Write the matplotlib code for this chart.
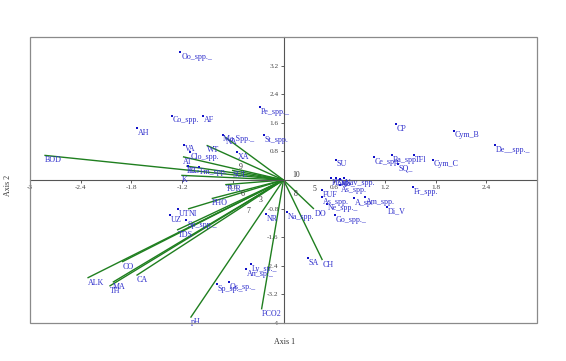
import matplotlib
matplotlib.use("Agg")
import matplotlib.pyplot as plt
from matplotlib.patches import Rectangle

plt.rcParams['font.family'] = ['Liberation Serif', 'DejaVu Serif']

# ---- species scores ----
species_names = ["Oo_spp._", "Co_spp.", "AF", "AH", "Pe_spp._", "St_spp.", "Ma Spp._",
                 "VA", "XA", "Clo_spp.", "CG", "Fm_spp.",
                 "UT", "UZ", "Sp_spp._", "NR", "Ly_sp._", "An_sp._", "Os_sp._", "Sp_sp._",
                 "Na_spp.", "SA",
                 "SU", "CP", "Cym_B", "De__spp._", "Ce_spp.", "Ba_spp", "TFl", "SQ_", "Cym_C",
                 "Fr_spp.", "Di_V", "A_sp.", "Am_spp.",
                 "Pl_sp.", "Ka_", "Mo_", "Nav_spp.", "As_spp.", "FUF", "As_spp.", "Ne_spp._",
                 "Go_spp._"]
species_x = [-1.22, -1.32, -0.95, -1.73, -0.28, -0.23, -0.72,
             -1.18, -0.55, -1.11, -1.13, -1.00,
             -1.25, -1.34, -1.15, -0.21, -0.38, -0.44, -0.65, -0.79,
             0.045, 0.29,
             0.62, 1.33, 2.02, 2.50, 1.07, 1.28, 1.55, 1.35, 1.77,
             1.53, 1.22, 0.83, 0.96,
             0.56, 0.62, 0.67, 0.72, 0.67, 0.46, 0.46, 0.51,
             0.61]
species_y = [3.57, 1.80, 1.80, 1.46, 2.05, 1.25, 1.27,
             0.99, 0.78, 0.78, 0.39, 0.36,
             -0.81, -0.99, -1.13, -0.95, -2.36, -2.50, -2.85, -2.90,
             -0.90, -2.18,
             0.57, 1.57, 1.38, 0.97, 0.64, 0.69, 0.69, 0.46, 0.57,
             -0.19, -0.75, -0.50, -0.48,
             0.06, 0.06, 0.04, 0.06, -0.15, -0.28, -0.48, -0.66,
             -0.99]

# ---- environmental variable scores (biplot arrows) ----
env_names = ["BOD", "NA", "WT", "AT", "EC", "K", "SUL", "TUR", "PHO", "NI", "TDS",
             "CO", "ALK", "MA", "TH", "CA", "pH", "FCO2", "DO", "CH"]
env_x = [-2.83, -0.69, -0.91, -1.19, -1.15, -1.21, -0.61, -0.69, -0.85, -1.13, -1.26,
         -1.91, -2.32, -2.02, -2.06, -1.74, -1.10, -0.26, 0.36, 0.46]
env_y = [0.69, 1.20, 0.97, 0.65, 0.39, 0.13, 0.27, -0.13, -0.52, -0.81, -1.40,
         -2.29, -2.74, -2.86, -2.97, -2.67, -3.85, -3.62, -0.81, -2.24]

# ---- site labels ----
site_names = ["10", "9", "6", "7", "3", "8", "5"]
site_x = [0.15, -0.51, -0.49, -0.42, -0.27, 0.15, 0.37]
site_y = [0.15, 0.35, -0.38, -0.88, -0.57, -0.38, -0.24]

# ---- axis ticks ----
xticks = [-3, -2.4, -1.8, -1.2, -0.6, 0.6, 1.2, 1.8, 2.4]
yticks = [3.2, 2.4, 1.6, 0.8, -0.8, -1.6, -2.4, -3.2, -4]

blue_txt = '#3030cc'
blue_dot = '#1010c8'
green = '#1f7f1f'

fig = plt.figure(figsize=(5.66, 3.61), dpi=100)
ax = fig.add_axes([30/566, 1-323/361, (537-30)/566, (323-37)/361])
ax.set_xlim(-3.0, 3.0)
ax.set_ylim(-4.0, 4.0)

# environmental vectors
for n, x, y in zip(env_names, env_x, env_y):
    ax.plot([0, x], [0, y], color=green, lw=1.0, zorder=2, solid_capstyle='butt')
    ax.annotate(n, (x, y), xytext=(0.3, -0.6), textcoords='offset points',
                ha='left', va='top', fontsize=5.8, color=blue_txt, zorder=4)

# species
ax.scatter(species_x, species_y, s=2.5, color=blue_dot, marker='s', linewidths=0, zorder=3)
for n, x, y in zip(species_names, species_x, species_y):
    ax.annotate(n, (x, y), xytext=(0.6, -0.6), textcoords='offset points',
                ha='left', va='top', fontsize=5.8, color=blue_txt, zorder=4)

# sites
for n, x, y in zip(site_names, site_x, site_y):
    ax.text(x, y, n, ha='center', va='center', fontsize=5.6, color='#333333', zorder=4)

# axes through origin
for s in ['top', 'right']:
    ax.spines[s].set_visible(False)
ax.spines['left'].set_position(('data', 0))
ax.spines['bottom'].set_position(('data', 0))
ax.spines['left'].set_color('#555555')
ax.spines['bottom'].set_color('#555555')
ax.spines['left'].set_linewidth(0.8)
ax.spines['bottom'].set_linewidth(0.8)
ax.add_patch(Rectangle((0, 0), 1, 1, transform=ax.transAxes, fill=False,
                       ec='#8a8a8a', lw=0.9, clip_on=False, zorder=5))

ax.set_xticks(xticks)
ax.set_xticklabels([('%g' % t) for t in xticks])
ax.set_yticks(yticks)
ax.set_yticklabels([('%g' % t) for t in yticks])
ax.tick_params(axis='both', direction='out', length=2, width=0.6, colors='#444444',
               labelsize=5.2, pad=1.5)

fig.text(285/566, 1-342/361, "Axis 1", ha='center', va='center', fontsize=5.8, color='#333333')
fig.text(8/566, 1-185/361, "Axis 2", ha='center', va='center', rotation=90,
         fontsize=5.8, color='#333333')

fig.savefig("out.png", dpi=100)
